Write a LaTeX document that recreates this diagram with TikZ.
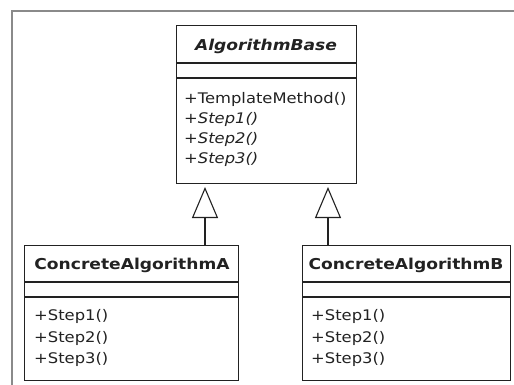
\documentclass[tikz,border=0pt]{standalone}
\usepackage{fontspec}
\setmainfont{DejaVu Sans}
\newfontfamily\umlreg[FakeStretch=1.12]{DejaVu Sans}
\newfontfamily\umlbold[FakeStretch=1.14]{DejaVu Sans Bold}
\newfontfamily\umlboldit[FakeStretch=1.14]{DejaVu Sans Bold Oblique}
\newfontfamily\umlit[FakeStretch=1.12]{DejaVu Sans Oblique}
\usetikzlibrary{arrows.meta}
\definecolor{ink}{HTML}{222222}
\definecolor{frame}{HTML}{8A8A8A}
\tikzset{
  umlbox/.style={draw=ink, line width=1.1pt, fill=white, anchor=north west, inner sep=0pt},
  umltitle/.style={text=ink, anchor=base, font=\fontsize{15}{18}\umlbold, inner sep=0pt},
  umlop/.style={text=ink, anchor=base west, font=\fontsize{14.6}{18}\umlreg, inner sep=0pt},
  umlopit/.style={umlop, font=\fontsize{14.6}{18}\umlit},
  inherit/.style={draw=ink, line width=1.1pt, -{Triangle[open, length=31pt, width=26pt]}, shorten >=4pt},
}
\begin{document}
\begin{tikzpicture}[x=1pt, y=-1pt]
\useasboundingbox (0,0) rectangle (514,385);
\fill[white] (0,0) rectangle (514,385);
\draw[frame, line width=2pt] (12,385) -- (12,11) -- (514,11);
% base class
\node[umlbox, minimum width=180pt, minimum height=158pt] (base) at (176,25) {};
\node[umltitle, font=\fontsize{15}{18}\umlboldit] (baseT) at (266,51) {AlgorithmBase};
\draw[ink, line width=1.1pt] (176,63) -- (356,63) (176,78) -- (356,78);
\node[umlop] (baseO1) at (184,104) {+TemplateMethod()};
\node[umlopit] (baseO2) at (184,124) {+Step1()};
\node[umlopit] (baseO3) at (184,144) {+Step2()};
\node[umlopit] (baseO4) at (184,164) {+Step3()};
% concrete A
\node[umlbox, minimum width=214pt, minimum height=135pt] (ca) at (24,245) {};
\node[umltitle] (caT) at (132,269) {ConcreteAlgorithmA};
\draw[ink, line width=1.1pt] (24,282) -- (238,282) (24,297) -- (238,297);
\node[umlop] (caO1) at (34,320) {+Step1()};
\node[umlop] (caO2) at (34,342) {+Step2()};
\node[umlop] (caO3) at (34,363) {+Step3()};
% concrete B
\node[umlbox, minimum width=208pt, minimum height=135pt] (cb) at (302,245) {};
\node[umltitle] (cbT) at (406,269) {ConcreteAlgorithmB};
\draw[ink, line width=1.1pt] (302,282) -- (510,282) (302,297) -- (510,297);
\node[umlop] (cbO1) at (311,320) {+Step1()};
\node[umlop] (cbO2) at (311,342) {+Step2()};
\node[umlop] (cbO3) at (311,363) {+Step3()};
% inheritance
\coordinate (pa) at (205,183);
\coordinate (pb) at (328,183);
\draw[inherit] (ca.north -| pa) -- (pa);
\draw[inherit] (cb.north -| pb) -- (pb);
\end{tikzpicture}
\end{document}
